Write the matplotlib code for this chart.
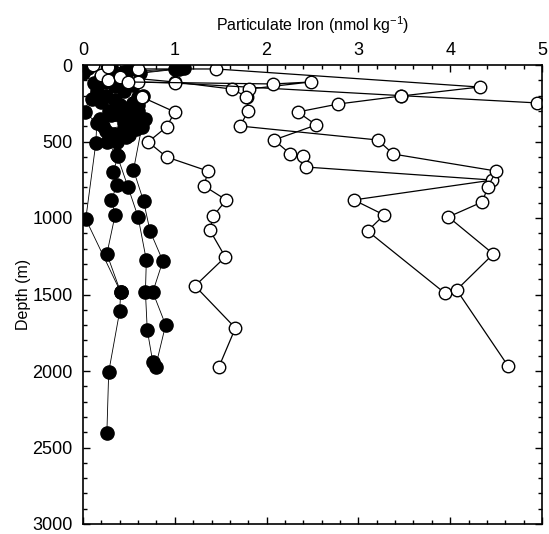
import numpy as np
import matplotlib.pyplot as plt
from matplotlib.ticker import MultipleLocator

plt.rcParams['font.family'] = ['Liberation Sans', 'DejaVu Sans']
plt.rcParams['mathtext.default'] = 'regular'

# open-symbol profiles: particulate Fe (nmol/kg) and depth (m)
open_a_fe = [0.11, 0.20, 0.27, 0.49, 0.64, 1.00, 0.91, 0.71, 0.91, 1.36, 1.32, 1.56, 1.42, 1.38, 1.55, 1.22, 1.66, 1.48]
open_a_z = [0, 65, 98, 111, 209, 307, 405, 503, 601, 693, 791, 882, 987, 1078, 1255, 1444, 1719, 1974]

open_b_fe = [0.27, 0.60, 1.45, 4.32, 3.46, 2.78, 2.34, 2.54, 2.08, 2.26, 2.40, 2.43, 4.46, 2.95, 3.28, 3.10, 3.94]
open_b_z = [13, 26, 26, 144, 203, 255, 307, 392, 490, 582, 595, 667, 752, 882, 980, 1085, 1490]

open_c_fe = [0.40, 1.00, 1.62, 1.79, 1.80, 1.71, 3.21, 3.38, 4.50, 4.41, 4.35, 3.98, 4.47, 4.07, 4.63]
open_c_z = [78, 111, 157, 209, 301, 399, 490, 582, 693, 797, 895, 993, 1235, 1470, 1967]

open_d_fe = [0.60, 1.00, 3.46, 4.95]
open_d_z = [111, 118, 200, 248]

open_e_fe = [0.49, 2.07, 2.48, 1.81, 1.78]
open_e_z = [111, 124, 111, 157, 209]

# filled-symbol profiles
fill_a_fe = [0.05, 0.00, 0.12, 0.02, 0.15, 0.14, 0.03, 0.41, 0.40, 0.28, 0.26]
fill_a_z = [20, 52, 120, 307, 380, 510, 1007, 1484, 1608, 2007, 2405]

fill_b_fe = [0.30, 0.20, 0.35, 0.25, 0.40, 0.30, 0.22, 0.26, 0.38, 0.33, 0.37, 0.31, 0.35, 0.26, 0.41]
fill_b_z = [10, 80, 140, 200, 260, 330, 400, 503, 595, 699, 784, 882, 980, 1235, 1484]

fill_c_fe = [1.10, 0.62, 0.55, 0.60, 0.48, 0.64, 0.55, 0.66, 0.73, 0.87, 0.76, 0.90, 0.79]
fill_c_z = [20, 50, 130, 210, 290, 405, 686, 890, 1085, 1281, 1484, 1699, 1974]

fill_d_fe = [1.00, 0.45, 0.25, 0.45, 0.20, 0.50, 0.42, 0.37, 0.49, 0.60, 0.69, 0.68, 0.70, 0.76]
fill_d_z = [26, 45, 110, 170, 240, 320, 440, 588, 797, 993, 1275, 1484, 1732, 1941]

fill_e_fe = [1.05, 0.38, 0.15, 0.35, 0.55, 0.28, 0.18, 0.45, 0.33, 0.37]
fill_e_z = [26, 70, 170, 230, 250, 300, 350, 380, 450, 503]

fill_f_fe = [0.50, 0.30, 0.45, 0.10, 0.60, 0.40, 0.55, 0.25, 0.50]
fill_f_z = [30, 100, 120, 220, 300, 330, 370, 430, 460]

fill_g_fe = [0.65, 0.60, 0.68, 0.58, 0.47]
fill_g_z = [200, 260, 350, 420, 470]

opens = [(open_a_fe, open_a_z), (open_b_fe, open_b_z), (open_c_fe, open_c_z),
         (open_d_fe, open_d_z), (open_e_fe, open_e_z)]
fills = [(fill_a_fe, fill_a_z), (fill_b_fe, fill_b_z), (fill_c_fe, fill_c_z),
         (fill_d_fe, fill_d_z), (fill_e_fe, fill_e_z), (fill_f_fe, fill_f_z),
         (fill_g_fe, fill_g_z)]

fig = plt.figure(figsize=(5.49, 5.34), dpi=100)
ax = fig.add_axes([83/549, 10/534, 459/549, 459/534])

for fe, z in fills:
    ax.plot(fe, z, '-', color='black', lw=0.6, marker='o', ms=9.5,
            mfc='black', mec='black', mew=1.0)
for fe, z in opens:
    ax.plot(fe, z, '-', color='black', lw=0.9, marker='o', ms=9,
            mfc='white', mec='black', mew=1.0)

ax.set_xlim(0, 5)
ax.set_ylim(3000, 0)
ax.xaxis.tick_top()
ax.xaxis.set_label_position('top')
ax.xaxis.set_major_locator(MultipleLocator(1))
ax.xaxis.set_minor_locator(MultipleLocator(0.2))
ax.yaxis.set_major_locator(MultipleLocator(500))
ax.yaxis.set_minor_locator(MultipleLocator(100))
ax.tick_params(which='both', direction='in', top=True, bottom=True, left=True, right=True,
               labeltop=True, labelbottom=False, labelsize=13, width=1.0)
ax.tick_params(which='major', length=5)
ax.tick_params(which='minor', length=3)
ax.tick_params(axis='x', which='major', pad=4)
ax.tick_params(axis='y', which='major', pad=7.5)
for s in ax.spines.values():
    s.set_linewidth(1.2)

ax.set_xlabel('Particulate Iron (nmol kg$^{-1}$)', fontsize=11.5, labelpad=8)
ax.set_ylabel('Depth (m)', fontsize=11.5, labelpad=1)

fig.savefig('out.png', dpi=100)
